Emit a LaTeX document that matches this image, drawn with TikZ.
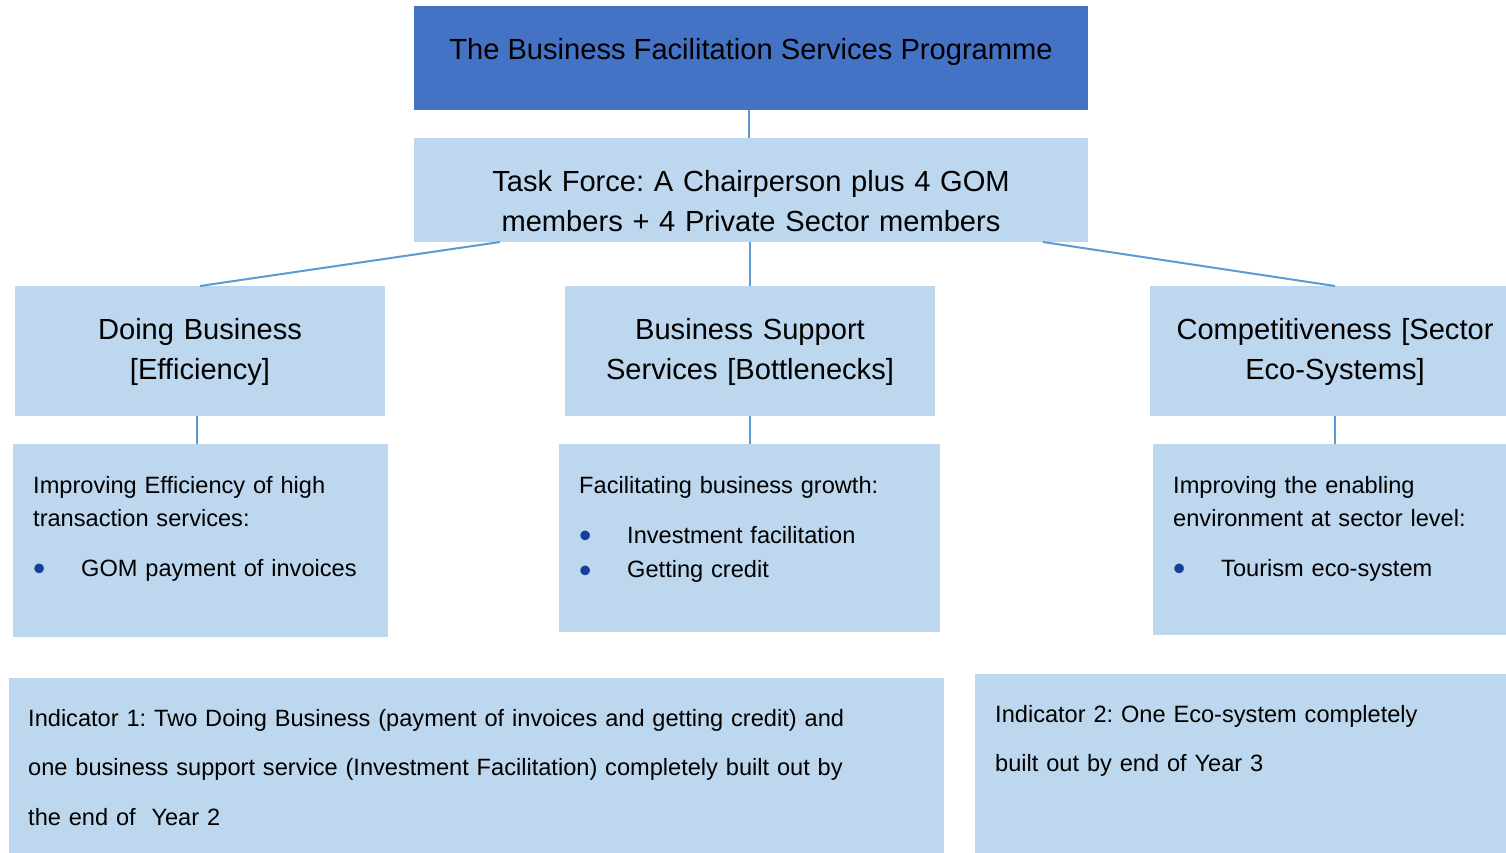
\documentclass[tikz,border=0pt]{standalone}
\usepackage{fontspec}
\setmainfont{Liberation Sans}
\frenchspacing

\definecolor{boxdark}{HTML}{4472C4}
\definecolor{boxlight}{HTML}{BDD7EE}
\definecolor{linkblue}{HTML}{5B9BD5}
\definecolor{dotblue}{HTML}{173C99}

\newcommand{\bitem}[1]{\makebox[48pt][l]{\color{dotblue}\raisebox{-4.5pt}{\fontsize{35}{35}\selectfont\textbullet}}#1}

\begin{document}
\begin{tikzpicture}[x=1pt, y=-1pt,
		box/.style={fill=boxlight, inner sep=0pt, outer sep=0pt, anchor=north west},
		head/.style={anchor=base, align=center, inner sep=0pt, font=\fontsize{29.1}{40}\selectfont},
		body/.style={anchor=base west, align=left, inner sep=0pt, font=\fontsize{23.6}{33}\selectfont},
		link/.style={draw=linkblue, line width=2pt}]
		\useasboundingbox (0, 0) rectangle (1506, 853);
		\clip (0, 0) rectangle (1506, 853);
		% boxes
		\node [box, fill=boxdark, minimum width=674pt, minimum height=104pt] (prog) at (414, 6) {};
		\node [box, minimum width=674pt, minimum height=104pt] (task) at (414, 138) {};
		\node [box, minimum width=370pt, minimum height=130pt] (doing) at (15, 286) {};
		\node [box, minimum width=370pt, minimum height=130pt] (support) at (565, 286) {};
		\node [box, minimum width=370pt, minimum height=130pt] (compet) at (1150, 286) {};
		\node [box, minimum width=375pt, minimum height=193pt] (improv) at (13, 444) {};
		\node [box, minimum width=381pt, minimum height=188pt] (facili) at (559, 444) {};
		\node [box, minimum width=375pt, minimum height=191pt] (enabl) at (1153, 444) {};
		\node [box, minimum width=935pt, minimum height=190pt] (ind1) at (9, 678) {};
		\node [box, minimum width=550pt, minimum height=190pt] (ind2) at (975, 674) {};
		% texts
		\node [head] (progtext) at (751, 59.5) {The Business Facilitation Services Programme};
		\node [head, text width=674pt] (tasktext) at (751, 191.5) {Task Force: A Chairperson plus 4 GOM\\members + 4 Private Sector members};
		\node [head, text width=370pt] (doingtext) at (200, 339.5) {Doing Business\\{[Efficiency]}};
		\node [head, text width=370pt] (supporttext) at (750, 339.5) {Business Support\\Services [Bottlenecks]};
		\node [head, text width=370pt] (competext) at (1335, 339.5) {Competitiveness [Sector\\Eco-Systems]};
		\node [body, text width=340pt] (improvtext) at (33, 493) {Improving Efficiency of high\\transaction services:\\[17pt]\bitem{GOM payment of invoices}};
		\node [body, text width=340pt] (facilitext) at (579, 493.3) {Facilitating business growth:\\[17pt]\bitem{Investment facilitation}\\[1.5pt]\bitem{Getting credit}};
		\node [body, text width=340pt] (enabltext) at (1173, 493) {Improving the enabling\\environment at sector level:\\[17pt]\bitem{Tourism eco-system}};
		\node [body, text width=900pt, font=\fontsize{23.6}{49.5}\selectfont] (ind1text) at (28, 726) {Indicator 1: Two Doing Business (payment of invoices and getting credit) and\\one business support service (Investment Facilitation) completely built out by\\the end of\ \ Year 2};
		\node [body, text width=500pt, font=\fontsize{23.6}{48.5}\selectfont] (ind2text) at (995, 722.5) {Indicator 2: One Eco-system completely\\built out by end of Year 3};
		% connectors
		\draw [link] ([xshift=-2pt]prog.south) -- ([xshift=-2pt]task.north);
		\draw [link] ([xshift=-251pt]task.south) -- (doing.north);
		\draw [link] ([xshift=-1pt]task.south) -- (support.north);
		\draw [link] ([xshift=292pt]task.south) -- (compet.north);
		\draw [link] ([xshift=-3pt]doing.south) -- ([xshift=-3pt]doing.south |- improv.north);
		\draw [link] (support.south) -- (support.south |- facili.north);
		\draw [link] (compet.south) -- (compet.south |- enabl.north);
	\end{tikzpicture}
\end{document}
